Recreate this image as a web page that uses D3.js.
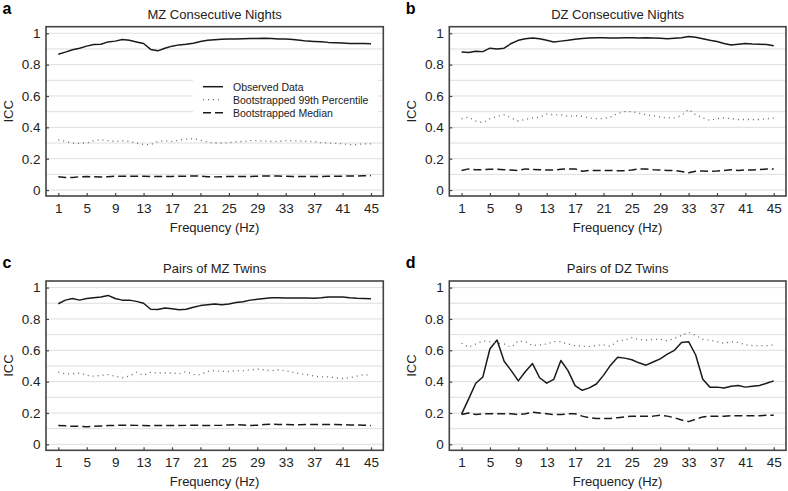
<!DOCTYPE html>
<html>
<head>
<meta charset="utf-8">
<script src="https://cdn.jsdelivr.net/npm/d3@7"></script>
<style>
  body { margin: 0; background: #fff; }
  svg { display: block; font-family: "Liberation Sans", Arial, sans-serif; }
</style>
</head>
<body>
<svg id="chart" width="788" height="491"></svg>
<script>
// frequencies 1..45 Hz
var freqs = d3.range(1, 46);
var xTicks = [1, 5, 9, 13, 17, 21, 25, 29, 33, 37, 41, 45];
var yTicks = [0, 0.2, 0.4, 0.6, 0.8, 1];
var gridValues = d3.range(0, 11).map(function (i) { return i / 10; });

var titles = ["MZ Consecutive Nights", "DZ Consecutive Nights", "Pairs of MZ Twins", "Pairs of DZ Twins"];
var letters = ["a", "b", "c", "d"];
var legendLabels = ["Observed Data", "Bootstrapped 99th Percentile", "Bootstrapped Median"];

// a: MZ consecutive nights
var observedA = [0.866, 0.88, 0.895, 0.905, 0.918, 0.928, 0.93, 0.945, 0.95, 0.96, 0.955, 0.945, 0.935, 0.897, 0.888,
  0.905, 0.918, 0.926, 0.93, 0.937, 0.948, 0.955, 0.958, 0.962, 0.963, 0.963, 0.965, 0.966, 0.967, 0.968,
  0.966, 0.964, 0.963, 0.96, 0.955, 0.95, 0.948, 0.946, 0.942, 0.94, 0.938, 0.935, 0.935, 0.935, 0.933];
var pct99A = [0.32, 0.31, 0.30, 0.297, 0.30, 0.315, 0.32, 0.315, 0.31, 0.315, 0.31, 0.30, 0.29, 0.29, 0.31,
  0.315, 0.31, 0.318, 0.325, 0.328, 0.318, 0.305, 0.30, 0.30, 0.302, 0.308, 0.31, 0.315, 0.315, 0.312,
  0.31, 0.31, 0.315, 0.315, 0.312, 0.31, 0.31, 0.302, 0.30, 0.298, 0.295, 0.29, 0.29, 0.295, 0.295];
var medianA = [0.085, 0.08, 0.08, 0.085, 0.086, 0.085, 0.083, 0.085, 0.089, 0.088, 0.088, 0.088, 0.088, 0.087, 0.087,
  0.087, 0.087, 0.088, 0.088, 0.09, 0.089, 0.085, 0.084, 0.085, 0.086, 0.086, 0.087, 0.087, 0.088, 0.09,
  0.09, 0.089, 0.088, 0.087, 0.086, 0.086, 0.087, 0.087, 0.088, 0.088, 0.088, 0.09, 0.09, 0.091, 0.092];

// b: DZ consecutive nights
var observedB = [0.88, 0.877, 0.885, 0.883, 0.905, 0.9, 0.905, 0.935, 0.955, 0.965, 0.97, 0.965, 0.955, 0.945, 0.95,
  0.955, 0.962, 0.967, 0.97, 0.972, 0.972, 0.97, 0.97, 0.972, 0.972, 0.97, 0.972, 0.97, 0.968, 0.965,
  0.968, 0.972, 0.98, 0.975, 0.965, 0.955, 0.948, 0.935, 0.925, 0.93, 0.935, 0.932, 0.93, 0.928, 0.92];
var pct99B = [0.455, 0.465, 0.44, 0.43, 0.455, 0.47, 0.48, 0.46, 0.44, 0.45, 0.46, 0.465, 0.485, 0.48, 0.48,
  0.47, 0.475, 0.47, 0.46, 0.455, 0.455, 0.465, 0.49, 0.5, 0.5, 0.49, 0.48, 0.475, 0.465, 0.46,
  0.46, 0.475, 0.515, 0.48, 0.46, 0.445, 0.455, 0.46, 0.455, 0.45, 0.45, 0.45, 0.45, 0.455, 0.46];
var medianB = [0.125, 0.135, 0.13, 0.13, 0.132, 0.132, 0.13, 0.128, 0.125, 0.135, 0.132, 0.13, 0.128, 0.128, 0.132,
  0.135, 0.135, 0.12, 0.125, 0.125, 0.125, 0.125, 0.123, 0.123, 0.128, 0.135, 0.135, 0.13, 0.128, 0.125,
  0.125, 0.118, 0.11, 0.12, 0.122, 0.12, 0.122, 0.125, 0.13, 0.125, 0.128, 0.128, 0.13, 0.135, 0.135];

// c: pairs of MZ twins
var observedC = [0.897, 0.92, 0.93, 0.92, 0.93, 0.935, 0.94, 0.95, 0.93, 0.92, 0.92, 0.912, 0.9, 0.862, 0.86,
  0.87, 0.865, 0.858, 0.862, 0.875, 0.885, 0.89, 0.895, 0.89, 0.895, 0.905, 0.91, 0.92, 0.925, 0.93,
  0.935, 0.935, 0.934, 0.933, 0.933, 0.933, 0.932, 0.935, 0.94, 0.94, 0.94, 0.935, 0.932, 0.93, 0.928];
var pct99C = [0.46, 0.45, 0.45, 0.455, 0.44, 0.435, 0.44, 0.445, 0.435, 0.425, 0.435, 0.46, 0.44, 0.46, 0.455,
  0.455, 0.455, 0.45, 0.465, 0.445, 0.445, 0.465, 0.47, 0.465, 0.465, 0.47, 0.47, 0.475, 0.48, 0.475,
  0.47, 0.475, 0.47, 0.46, 0.45, 0.445, 0.435, 0.43, 0.43, 0.425, 0.42, 0.425, 0.435, 0.445, 0.44];
var medianC = [0.12, 0.118, 0.115, 0.115, 0.113, 0.115, 0.117, 0.12, 0.121, 0.122, 0.122, 0.121, 0.12, 0.119, 0.12,
  0.121, 0.121, 0.12, 0.121, 0.122, 0.121, 0.12, 0.121, 0.122, 0.124, 0.126, 0.124, 0.12, 0.122, 0.126,
  0.128, 0.127, 0.126, 0.125, 0.125, 0.126, 0.127, 0.127, 0.127, 0.126, 0.125, 0.124, 0.123, 0.122, 0.12];

// d: pairs of DZ twins
var observedD = [0.193, 0.29, 0.39, 0.43, 0.61, 0.665, 0.53, 0.47, 0.405, 0.465, 0.515, 0.425, 0.39, 0.415, 0.535,
  0.47, 0.375, 0.345, 0.36, 0.385, 0.44, 0.505, 0.555, 0.55, 0.54, 0.52, 0.505, 0.525, 0.545, 0.575,
  0.6, 0.65, 0.655, 0.57, 0.415, 0.365, 0.365, 0.36, 0.37, 0.375, 0.365, 0.37, 0.375, 0.39, 0.405];
var pct99D = [0.645, 0.62, 0.64, 0.66, 0.655, 0.645, 0.64, 0.62, 0.66, 0.655, 0.63, 0.635, 0.64, 0.655, 0.655,
  0.64, 0.63, 0.625, 0.625, 0.63, 0.635, 0.625, 0.66, 0.665, 0.68, 0.67, 0.665, 0.67, 0.67, 0.66,
  0.675, 0.695, 0.715, 0.695, 0.67, 0.665, 0.655, 0.645, 0.655, 0.65, 0.635, 0.63, 0.63, 0.63, 0.635];
var medianD = [0.19, 0.2, 0.19, 0.195, 0.195, 0.195, 0.195, 0.195, 0.19, 0.195, 0.205, 0.2, 0.195, 0.19, 0.19,
  0.195, 0.195, 0.18, 0.17, 0.165, 0.165, 0.165, 0.17, 0.175, 0.18, 0.18, 0.18, 0.18, 0.185, 0.18,
  0.17, 0.155, 0.145, 0.16, 0.175, 0.18, 0.18, 0.18, 0.182, 0.183, 0.183, 0.183, 0.183, 0.185, 0.185];

var panelData = [
  [observedA, pct99A, medianA],
  [observedB, pct99B, medianB],
  [observedC, pct99C, medianC],
  [observedD, pct99D, medianD]
];

// frame rectangles of each panel
var frames = [
  { left: 46, top: 26.7, width: 337.3, height: 169.3 },
  { left: 449.3, top: 26.7, width: 336.7, height: 169.3 },
  { left: 46, top: 281, width: 337.3, height: 169.3 },
  { left: 449.3, top: 281, width: 336.7, height: 169.3 }
];

var lineStyles = [
  { stroke: "#1a1a1a", width: 1.5, dash: null },
  { stroke: "#666", width: 1.3, dash: "1,4" },
  { stroke: "#1a1a1a", width: 1.5, dash: "8,4" }
];

var svg = d3.select("#chart");

function drawPanel(i) {
  var f = frames[i];
  var x = d3.scaleLinear().domain([-0.73, 46.73]).range([0, f.width]);
  var y = d3.scaleLinear().domain([-0.038, 1.042]).range([f.height, 0]);

  var g = svg.append("g").attr("transform", "translate(" + f.left + "," + f.top + ")");

  // grid lines every 0.1
  g.selectAll(".grid")
    .data(gridValues)
    .enter().append("line")
      .attr("x1", 0).attr("x2", f.width)
      .attr("y1", function (d) { return y(d); })
      .attr("y2", function (d) { return y(d); })
      .attr("stroke", "#dedede")
      .attr("stroke-width", 1);

  // legend box only in first panel
  if (i === 0) {
    g.append("rect")
      .attr("x", 147).attr("y", 46)
      .attr("width", 185).attr("height", 48)
      .attr("fill", "#fff");
  }

  var line = d3.line()
    .x(function (d, k) { return x(freqs[k]); })
    .y(function (d) { return y(d); });

  panelData[i].forEach(function (series, s) {
    var st = lineStyles[s];
    g.append("path")
      .datum(series)
      .attr("fill", "none")
      .attr("stroke", st.stroke)
      .attr("stroke-width", st.width)
      .attr("stroke-dasharray", st.dash)
      .attr("stroke-linejoin", "round")
      .attr("d", line);
  });

  // axes, ticks point inward
  var xAxis = d3.axisBottom(x).tickValues(xTicks).tickSizeInner(-3).tickSizeOuter(0).tickPadding(7);
  var yAxis = d3.axisLeft(y).tickValues(yTicks).tickSizeInner(-3).tickSizeOuter(0).tickPadding(5.5)
    .tickFormat(function (d) { return d === 0 || d === 1 ? d3.format("d")(d) : d3.format(".1f")(d); });

  var gx = g.append("g").attr("transform", "translate(0," + f.height + ")").call(xAxis);
  var gy = g.append("g").call(yAxis);
  [gx, gy].forEach(function (a) {
    a.select(".domain").remove();
    a.selectAll(".tick line").attr("stroke", "#444").attr("stroke-width", 1.2);
    a.selectAll("text").attr("fill", "#222").style("font-size", "13.5px").style("font-family", "Liberation Sans, Arial, sans-serif");
  });

  // frame
  g.append("rect")
    .attr("width", f.width).attr("height", f.height)
    .attr("fill", "none")
    .attr("stroke", "#444")
    .attr("stroke-width", 1.6);

  // title, letter, axis labels
  g.append("text")
    .attr("x", f.width / 2).attr("y", -8)
    .attr("text-anchor", "middle")
    .style("font-size", "13px").attr("fill", "#222")
    .text(titles[i]);

  svg.append("text")
    .attr("x", f.left - 43.5).attr("y", f.top - 12.7)
    .style("font-size", "16px").style("font-weight", "bold")
    .text(letters[i]);

  g.append("text")
    .attr("x", f.width / 2).attr("y", f.height + 36)
    .attr("text-anchor", "middle")
    .style("font-size", "13px").attr("fill", "#222")
    .text("Frequency (Hz)");

  g.append("text")
    .attr("transform", "translate(-33.3," + (f.height / 2) + ") rotate(-90)")
    .attr("text-anchor", "middle")
    .style("font-size", "13px").attr("fill", "#222")
    .text("ICC");

  if (i === 0) {
    var lg = g.append("g").attr("transform", "translate(157,60)");
    legendLabels.forEach(function (lab, s) {
      var st = lineStyles[s];
      lg.append("line")
        .attr("x1", 0).attr("x2", 20)
        .attr("y1", s * 13).attr("y2", s * 13)
        .attr("stroke", st.stroke)
        .attr("stroke-width", st.width)
        .attr("stroke-dasharray", st.dash);
      lg.append("text")
        .attr("x", 30).attr("y", s * 13 + 4)
        .style("font-size", "10.5px").attr("fill", "#222")
        .text(lab);
    });
  }
}

for (var i = 0; i < 4; i++) drawPanel(i);
</script>
</body>
</html>
